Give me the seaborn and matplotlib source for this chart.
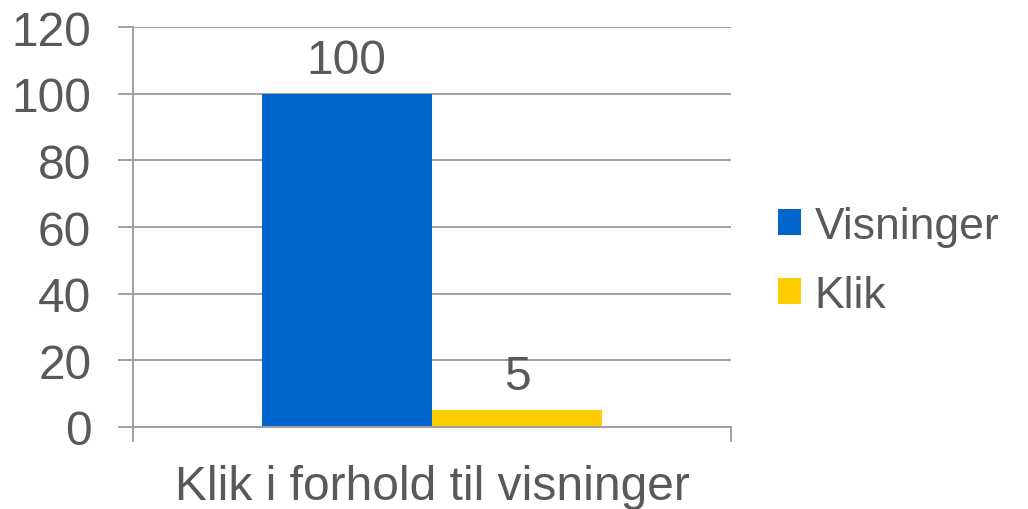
import matplotlib
matplotlib.use("Agg")
import matplotlib.pyplot as plt
import seaborn as sns
import pandas as pd

# data
category = ["Klik i forhold til visninger"]
series = ["Visninger", "Klik"]
values = [100, 5]
colors = ["#0066CC", "#FFCC00"]
yticks = [0, 20, 40, 60, 80, 100, 120]

df = pd.DataFrame({"kategori": category * len(series), "serie": series, "antal": values})

sns.set_style("white")
plt.rcParams["font.family"] = ["Liberation Sans", "DejaVu Sans"]
txt = "#595959"
grid = "#A0A0A0"
fs = 34.5

fig = plt.figure(figsize=(10.28, 5.10), dpi=100)
ax = fig.add_axes([133 / 1028, 1 - 428 / 510, (731 - 133) / 1028, 400 / 510])

sns.barplot(data=df, x="kategori", y="antal", hue="serie", palette=colors,
            width=0.57, gap=0, ax=ax, saturation=1, linewidth=0, legend=True)

for c in ax.containers:
    ax.bar_label(c, padding=8, fontsize=fs, color=txt)

ax.set_ylim(0, 120)
ax.set_xlim(-0.5, 0.5)
ax.set_yticks(yticks)
ax.yaxis.grid(True, color=grid, linewidth=1.4)
ax.set_axisbelow(True)
ax.set_xlabel("")
ax.set_ylabel("")

for s in ["top", "right"]:
    ax.spines[s].set_visible(False)
for s in ["left", "bottom"]:
    ax.spines[s].set_color(grid)
    ax.spines[s].set_linewidth(1.4)

ax.tick_params(axis="y", length=11, width=1.4, color=grid, pad=19,
               labelsize=fs, labelcolor=txt, direction="out", left=True)
ax.tick_params(axis="x", length=0, pad=27, labelsize=fs, labelcolor=txt)
ax.set_xticks([-0.5, 0.5], minor=True)
ax.tick_params(axis="x", which="minor", length=11, width=1.4, color=grid,
               direction="out", bottom=True)

handles, labels = ax.get_legend_handles_labels()
ax.legend(handles, labels, loc="center left", bbox_to_anchor=(778 / 1028, 1 - 262 / 510),
          bbox_transform=fig.transFigure, frameon=False, fontsize=32,
          handlelength=0.52, handleheight=0.52, handletextpad=0.3,
          labelspacing=0.63, borderpad=0, borderaxespad=0, labelcolor=txt)

fig.savefig("out.png", dpi=100)
